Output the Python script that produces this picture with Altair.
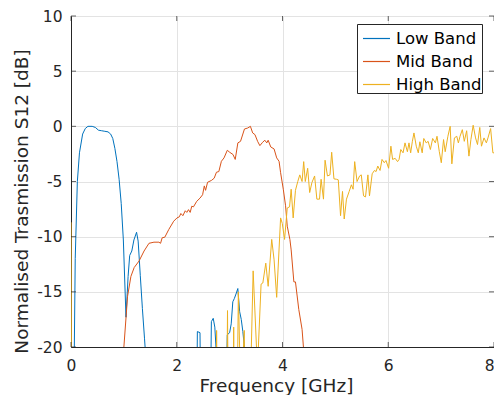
import altair as alt
import pandas as pd

# ---- data (frequency in GHz, level in dB) ----
low_f = [0.02, 0.08, 0.12, 0.16, 0.22, 0.27, 0.32, 0.40, 0.46, 0.52, 0.58, 0.64, 0.70, 0.75,
         0.79, 0.83, 0.87, 0.91, 0.95, 0.99, 1.04, 1.08, 1.11, 1.15, 1.19, 1.24, 1.27, 1.31,
         1.35, 1.39, 1.43, 1.47, 2.35, 2.39, 2.44, 2.48, 2.60, 2.655, 2.69, 2.72, 2.76, 2.80,
         2.88, 2.955, 3.00, 3.03, 3.06, 3.09, 3.12, 3.155, 3.19, 3.22, 3.25, 3.30, 3.34, 8.0]
low_db = [-40, -12, -5, -2.4, -0.7, -0.2, 0, 0, -0.1, -0.35, -0.4, -0.45, -0.5, -0.7,
          -1.1, -2.0, -3.2, -4.8, -7.0, -10.3, -17.3, -13.6, -11.7, -11.3, -10.3, -9.6, -10.4, -13.5,
          -16.5, -19.2, -22, -40, -40, -18.6, -18.7, -40, -40, -17.7, -17.4, -18.2, -21.5, -40,
          -40, -18.9, -18.7, -17.9, -15.9, -15.6, -15.2, -14.7, -16.8, -17.5, -18.6, -21, -40, -40]

mid_f = [0.95, 0.985, 1.07, 1.133, 1.195, 1.288, 1.382, 1.475, 1.569, 1.662, 1.694, 1.724, 1.774,
         1.849, 1.942, 2.004, 2.049, 2.078, 2.116, 2.161, 2.190, 2.222, 2.254, 2.284, 2.316,
         2.377, 2.441, 2.489, 2.521, 2.545, 2.583, 2.657, 2.708, 2.751, 2.796, 2.844, 2.894,
         2.956, 3.001, 3.063, 3.106, 3.156, 3.206, 3.281, 3.343, 3.393, 3.436, 3.479, 3.529,
         3.572, 3.623, 3.666, 3.703, 3.729, 3.778, 3.841, 3.890, 3.935, 3.964, 4.015, 4.058,
         4.090, 4.140, 4.164, 4.215, 4.245, 4.308, 4.370, 4.42, 4.46]
mid_db = [-40, -21, -15.4, -13.6, -12.8, -12.2, -11.3, -10.6, -10.5, -10.5, -10.6, -10.1, -10.05,
          -9.35, -8.6, -8.3, -8.2, -7.9, -8.1, -7.65, -7.8, -7.55, -7.8, -7.24, -7.3,
          -6.8, -6.5, -6.2, -5.4, -5.8, -5.07, -4.9, -4.7, -4.16, -4.1, -3.17, -2.86,
          -2.17, -2.35, -2.55, -3.0, -1.5, -1.36, -0.24, -0.15, 0.0, -0.6, -0.75, -1.36,
          -1.75, -1.45, -1.26, -1.5, -1.26, -1.87, -2.05, -2.86, -3.17, -4.2, -5.7, -7.2,
          -9.05, -10.25, -11.2, -14.1, -14.1, -16.6, -18.4, -21.5, -40]

high_f = [0.0, 0.03, 2.68, 2.717, 2.754, 2.792, 2.922, 2.960, 2.997, 3.044, 3.077, 3.109, 3.165,
          3.212, 3.277, 3.315, 3.361, 3.445, 3.526, 3.595, 3.628, 3.684, 3.729, 3.796, 3.841,
          3.890, 3.964, 3.996, 4.039, 4.090, 4.133, 4.164, 4.202, 4.245, 4.289, 4.327, 4.370,
          4.401, 4.431, 4.476, 4.514, 4.556, 4.607, 4.650, 4.700, 4.730, 4.775, 4.805, 4.850,
          4.898, 4.930, 4.973, 5.023, 5.055, 5.098, 5.135, 5.167, 5.210, 5.261, 5.303, 5.335,
          5.365, 5.410, 5.458, 5.490, 5.533, 5.570, 5.615, 5.645, 5.696, 5.739, 5.770, 5.802,
          5.845, 5.882, 5.925, 5.957, 6.007, 6.050, 6.082, 6.131, 6.176, 6.205, 6.237, 6.280,
          6.317, 6.362, 6.392, 6.424, 6.455, 6.486, 6.530, 6.568, 6.598, 6.642, 6.672, 6.717,
          6.754, 6.797, 6.840, 6.891, 6.922, 6.966, 7.003, 7.046, 7.077, 7.128, 7.171, 7.203,
          7.251, 7.296, 7.326, 7.358, 7.401, 7.438, 7.483, 7.526, 7.563, 7.606, 7.651, 7.688,
          7.731, 7.763, 7.811, 7.856, 7.886, 7.936, 7.979, 8.0]
high_db = [-8.7, -60, -60, -40, -18.5, -40, -40, -16.7, -40, -40, -18.2, -40, -15.0,
           -25, -18.5, -40, -30, -13.1, -22, -14.3, -14.2, -12.4, -14.5, -10.25, -12.1,
           -15.5, -8.3, -8.8, -10.25, -7.4, -7.3, -5.7, -8.3, -5.8, -5.0, -4.4, -5.0,
           -3.2, -5.0, -3.8, -6.0, -5.1, -4.5, -6.6, -6.6, -4.8, -6.6, -3.07, -4.5,
           -4.4, -2.35, -4.76, -4.8, -4.85, -8.1, -5.9, -8.4, -6.6, -5.9, -5.3, -5.7,
           -3.2, -5.0, -4.5, -4.4, -6.3, -6.4, -4.4, -6.3, -4.3, -4.0, -4.1, -3.6,
           -4.0, -3.0, -3.3, -3.1, -3.8, -1.8, -3.0, -2.9, -3.2, -3.0, -2.1, -2.4,
           -1.5, -2.3, -1.5, -2.4, -1.4, -0.6, -1.8, -2.4, -1.4, -2.4, -1.1, -1.5,
           -1.36, -2.1, -1.1, -1.5, -0.9, -2.3, -3.3, -1.2, -2.3, -0.9, 0.0, -3.4,
           -1.05, -0.9, -1.5, -0.9, -0.3, -1.36, -0.4, -2.7, -1.2, 0.1, -1.05, -1.65,
           -0.1, -1.8, -1.05, -1.5, -1.05, -0.2, -2.4, -2.4]

series_names = ["Low Band", "Mid Band", "High Band"]
series_colors = ["#0072BD", "#D95319", "#EDB120"]
x_ticks = [0, 2, 4, 6, 8]
y_ticks = [-20, -15, -10, -5, 0, 5, 10]

rows = []
for name, fs, ds in zip(series_names, [low_f, mid_f, high_f], [low_db, mid_db, high_db]):
    for i, (f, d) in enumerate(zip(fs, ds)):
        rows.append({"f": f, "db": d, "band": name, "i": i})
df = pd.DataFrame(rows)
xt = pd.DataFrame({"f": x_ticks})
yt = pd.DataFrame({"db": y_ticks})

W, H = 423, 331
FONT = "DejaVu Sans"
DARK = "#262626"

xscale = alt.Scale(domain=[0, 8], nice=False, zero=False)
yscale = alt.Scale(domain=[-20, 10], nice=False, zero=False)

lines = alt.Chart(df).mark_line(clip=True, strokeWidth=1).encode(
    x=alt.X("f:Q", scale=xscale,
            axis=alt.Axis(values=x_ticks, title="Frequency [GHz]", grid=True,
                          ticks=False, tickSize=0, labelPadding=11, labelFlush=False,
                          labelAlign={"condition": {"test": "datum.value >= 8", "value": "right"},
                                      "value": "center"},
                          labelExpr="'' + datum.value",
                          titleX=205, titleY=44, titleBaseline="alphabetic")),
    y=alt.Y("db:Q", scale=yscale,
            axis=alt.Axis(values=y_ticks, title="Normalised Trasmission S12 [dB]", grid=True,
                          ticks=False, tickSize=0, labelPadding=9, labelFlush=False,
                          labelExpr="'' + datum.value",
                          titleX=-44, titleY=185, titleBaseline="alphabetic")),
    color=alt.Color("band:N",
                    scale=alt.Scale(domain=series_names, range=series_colors),
                    legend=alt.Legend(orient="none", legendX=286, legendY=8, title=None,
                                      symbolType="stroke", symbolSize=729,
                                      symbolStrokeWidth=1.2, labelFont=FONT,
                                      labelFontSize=16.5, labelColor="black",
                                      padding=0, symbolOffset=5, labelOffset=5,
                                      rowPadding=-8.7, strokeColor=DARK,
                                      fillColor="white", labelLimit=300,
                                      labelExpr="datum.label + '  '")),
    order="i:Q",
)

tick_style = dict(color=DARK, thickness=1, size=5)
bottom_ticks = alt.Chart(xt).mark_tick(orient="vertical", **tick_style).encode(
    x=alt.X("f:Q", scale=xscale), y=alt.value(H - 2.5))
top_ticks = alt.Chart(xt).mark_tick(orient="vertical", **tick_style).encode(
    x=alt.X("f:Q", scale=xscale), y=alt.value(2.5))
left_ticks = alt.Chart(yt).mark_tick(orient="horizontal", **tick_style).encode(
    y=alt.Y("db:Q", scale=yscale), x=alt.value(2.5))
right_ticks = alt.Chart(yt).mark_tick(orient="horizontal", **tick_style).encode(
    y=alt.Y("db:Q", scale=yscale), x=alt.value(W - 2.5))

chart = alt.layer(lines, bottom_ticks, top_ticks, left_ticks, right_ticks).properties(
    width=W, height=H,
    background="white",
    autosize=alt.AutoSizeParams(type="none"),
    padding={"left": 63, "top": 8, "right": 0, "bottom": 48},
).configure_view(stroke=DARK, strokeWidth=1).configure_axis(
    labelFont=FONT, titleFont=FONT, labelFontSize=15.5, titleFontSize=18.5,
    titleFontWeight="normal", labelColor=DARK, titleColor=DARK,
    domainColor=DARK, gridColor="#e3e3e3", gridWidth=1,
)

chart.save("out.html", embed_options={"renderer": "svg", "actions": False})
